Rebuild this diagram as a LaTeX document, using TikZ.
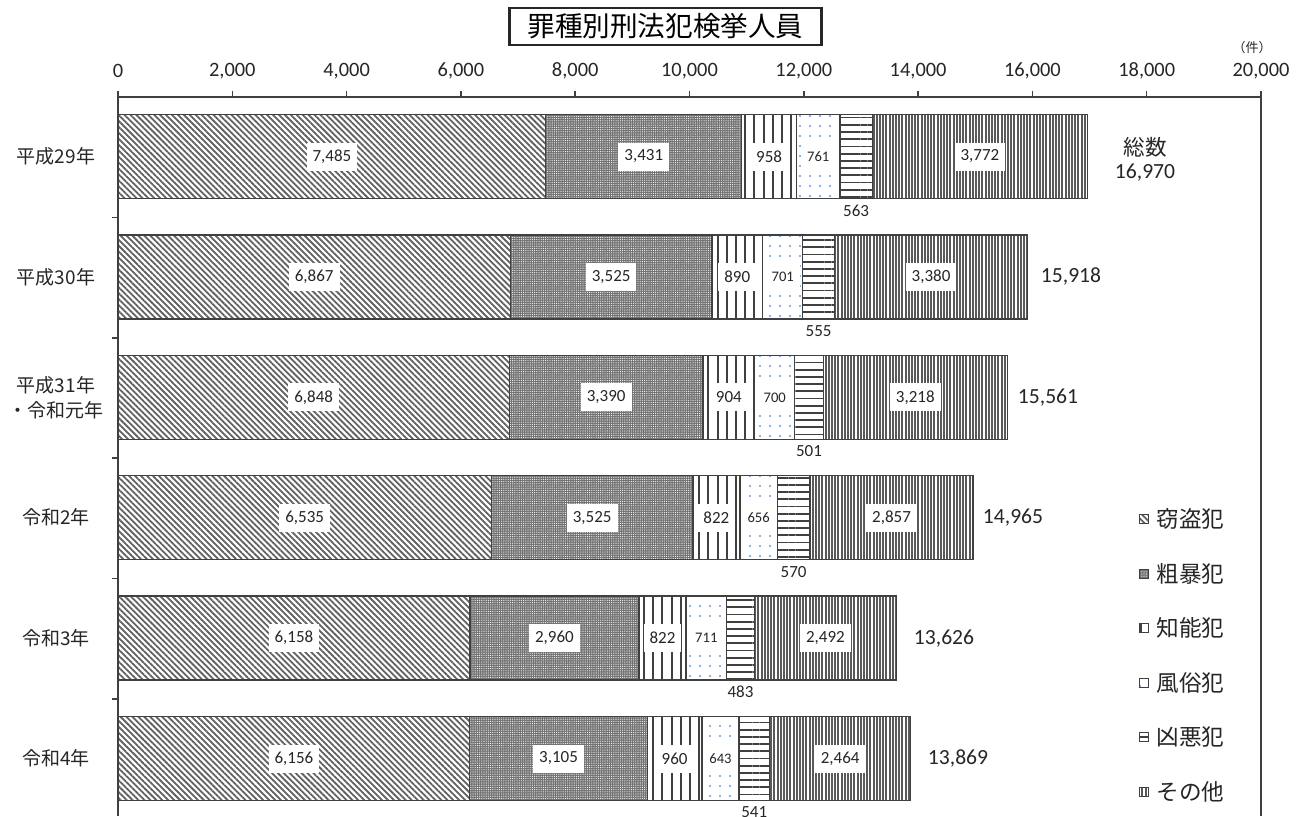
\documentclass[tikz,border=0pt]{standalone}
\usepackage{fontspec}
\setmainfont{Carlito}
\newfontfamily\jp{Noto Sans CJK JP}
\usetikzlibrary{patterns.meta}
\definecolor{axisgray}{RGB}{64,64,64}
\definecolor{dotblue}{RGB}{110,150,215}
\pgfkeys{/pgf/number format/.cd,1000 sep={,},assume math mode=true}

\begin{document}
\begin{tikzpicture}[x=0.5pt,y=-0.5pt,
    axis/.style={axisgray,line width=0.75pt},
    bar/.style={draw=axisgray,line width=0.7pt},
    theft/.style={pattern={Lines[angle=-45,distance=2.1pt,line width=0.9pt]},pattern color=black!62},
    violent/.style={preaction={fill=black!55},pattern={Dots[distance=1.1pt,radius=0.28pt]},pattern color=white},
    intel/.style={pattern={Lines[angle=90,distance=4.6pt,line width=1pt]},pattern color=black!75},
    moral/.style={pattern={Dots[distance=5pt,radius=0.55pt]},pattern color=dotblue},
    heinous/.style={pattern={Lines[angle=0,distance=3.6pt,line width=0.9pt]},pattern color=black!75},
    other/.style={pattern={Lines[angle=90,distance=1.6pt,line width=1pt]},pattern color=black!65},
    val/.style={fill=white,inner xsep=3pt,inner ysep=0pt,minimum height=14pt,text=black!85,font=\fontsize{8.5}{10}\selectfont},
    sval/.style={font=\fontsize{7.3}{9}\selectfont},
    lowval/.style={inner sep=0pt,text=black!85,font=\fontsize{8.5}{10}\selectfont},
    tot/.style={inner sep=0pt,text=black!85,font=\fontsize{10.8}{13}\selectfont},
    tick/.style={inner sep=0pt,text=black!85,font=\fontsize{10.2}{12}\selectfont},
    cat/.style={inner sep=0pt,align=center,text=black!85,font=\jp\fontsize{9.5}{12.5}\selectfont},
    leg/.style={anchor=west,inner sep=0pt,text=black!85,font=\jp\fontsize{11.3}{13}\selectfont}]
\fill[white] (0,0) rectangle (1304,816);
\useasboundingbox (0,0) rectangle (1304,816);

\node (title) at (665.5,26.5) [draw=black!85,line width=1.1pt,minimum width=156pt,minimum height=18.5pt,inner sep=0pt,font=\jp\fontsize{13.8}{16}\selectfont] {罪種別刑法犯検挙人員};
\node (unit) at (1252,48) [inner sep=0pt,text=black!85,font=\jp\fontsize{6.5}{8}\selectfont] {（件）};

\foreach \v in {0,2,...,20}
{
    \draw[axis] ({118+57.15*\v},91) -- ({118+57.15*\v},97);
    \node (x\v) at ({118+57.15*\v},71) [tick] {\ifnum\v=0 0\else\v,000\fi};
}
\foreach \k in {1,...,5}
    \draw[axis] (112,{97+120.4*\k}) -- (118,{97+120.4*\k});

\foreach \k/\a/\b/\c/\d/\e/\f/\tx/\dy in {0/7485/3431/958/761/563/3772/1145/16.5,
    1/6867/3525/890/701/555/3380/1071/0, 2/6848/3390/904/700/501/3218/1048/0,
    3/6535/3525/822/656/570/2857/1013/0, 4/6158/2960/822/711/483/2492/944/0,
    5/6156/3105/960/643/541/2464/958/0}
{
    \pgfmathsetmacro\yt{114.5+120.4*\k}
    \pgfmathsetmacro\yb{\yt+84}
    \pgfmathsetmacro\ym{\yt+42}
    \pgfmathsetmacro\xa{118+0.05715*\a}
    \pgfmathsetmacro\xb{\xa+0.05715*\b}
    \pgfmathsetmacro\xc{\xb+0.05715*\c}
    \pgfmathsetmacro\xd{\xc+0.05715*\d}
    \pgfmathsetmacro\xe{\xd+0.05715*\e}
    \pgfmathsetmacro\xf{\xe+0.05715*\f}
    \edef\tot{\the\numexpr\a+\b+\c+\d+\e+\f\relax}
    \draw[bar,theft] (118,\yt) rectangle (\xa,\yb);
    \draw[bar,violent] (\xa,\yt) rectangle (\xb,\yb);
    \draw[bar,intel] (\xb,\yt) rectangle (\xc,\yb);
    \draw[bar,moral] (\xc,\yt) rectangle (\xd,\yb);
    \draw[bar,heinous] (\xd,\yt) rectangle (\xe,\yb);
    \draw[bar,other] (\xe,\yt) rectangle (\xf,\yb);
    \node (va\k) at ({(118+\xa)/2},\ym) [val] {\pgfmathprintnumber{\a}};
    \node (vb\k) at ({(\xa+\xb)/2},\ym) [val] {\pgfmathprintnumber{\b}};
    \node (vc\k) at ({(\xb+\xc)/2},\ym) [val] {\c};
    \node (vd\k) at ({(\xc+\xd)/2},\ym) [val,sval] {\d};
    \node (ve\k) at ({(\xd+\xe)/2},\yb+12) [lowval] {\e};
    \node (vf\k) at ({(\xe+\xf)/2},\ym) [val] {\pgfmathprintnumber{\f}};
    \node (t\k) at (\tx,\ym+\dy) [tot] {\pgfmathprintnumber{\tot}};
}
\node (sum) at (1145,147) [tot,font=\jp\fontsize{10.8}{13}\selectfont] {総数};

\foreach \k/\lab in {0/平成29年,1/平成30年,2/{平成31年\\・令和元年},3/令和2年,4/令和3年,5/令和4年}
    \node (c\k) at (56,{156.5+120.4*\k}) [cat] {\lab};

\draw[axis] (118,816) -- (118,97) -- (1261,97) -- (1261,816);

\foreach \i/\st/\lab in {0/theft/窃盗犯,1/violent/粗暴犯,2/intel/知能犯,3/moral/風俗犯,4/heinous/凶悪犯,5/other/その他}
{
    \pgfmathsetmacro\ly{519+54.6*\i}
    \draw[bar,\st,line width=0.5pt] (1139,\ly-4.5) rectangle (1148,\ly+4.5);
    \node (l\i) at (1156,\ly) [leg] {\lab};
}
\end{tikzpicture}
\end{document}
